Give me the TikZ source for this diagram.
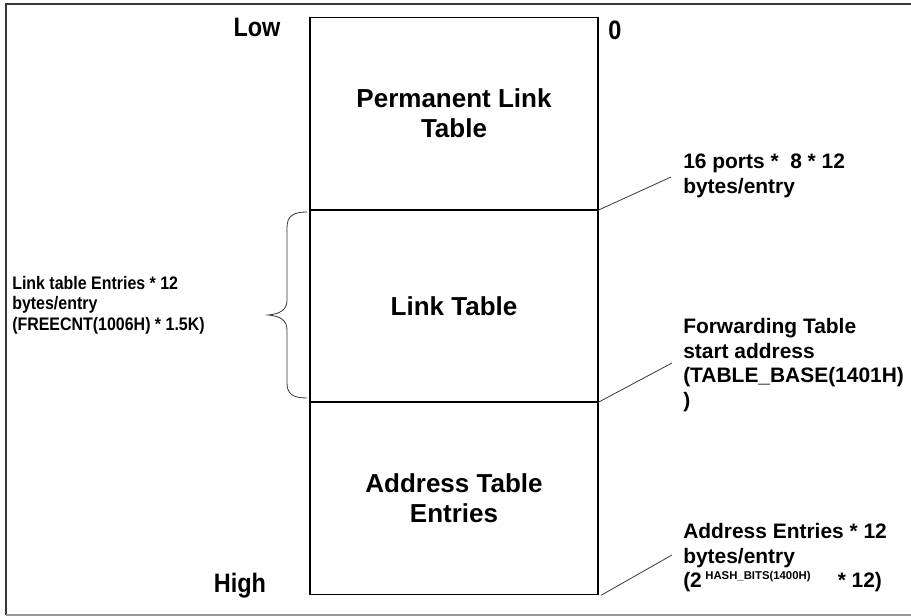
\documentclass[tikz,border=0pt]{standalone}
\usepackage{fontspec}
\setmainfont{Liberation Sans}
\newfontfamily\condfont[FakeStretch=0.88]{Liberation Sans}
\usepackage{xcolor}
\definecolor{marco}{RGB}{55,55,55}
\definecolor{gris}{RGB}{150,150,150}
\tikzset{
  bloque/.style={draw, line width=0.8pt, minimum width=216pt, inner sep=0pt,
    align=center, font=\fontsize{19.5}{22.5}\selectfont\bfseries},
  nota/.style={anchor=west, inner sep=0pt, align=left,
    font=\fontsize{15.7}{18.4}\selectfont\bfseries},
  extremo/.style={inner sep=0pt, font=\condfont\fontsize{20}{22}\selectfont\bfseries}
}

\begin{document}
\begin{tikzpicture}[x=0.75pt,y=-0.75pt]
        \useasboundingbox (0,0) rectangle (911,616);
        % marco
        \draw[marco, line width=1.5pt] (6,615) -- (6,4) -- (911,4);
        \draw[gris, line width=1pt] (6,615) -- (911,615);
        % tablas
        \node[bloque, minimum height=144pt, anchor=north] (perm) at (454,17) {Permanent Link\\Table};
        \node[bloque, minimum height=143.25pt, anchor=north] (link) at (perm.south) {Link Table};
        \node[bloque, minimum height=144pt, anchor=north] (addr) at (link.south) {Address Table\\Entries};
        % low / high
        \node[extremo] (low) at (257,27) {Low};
        \node[extremo] (high) at (240,586) {High};
        \node[extremo] (cero) at (615,30) {0};
        % notas derecha
        \node[nota] (n1) at (683,176) {16 ports *\ \ 8 * 12\\bytes/entry};
        \node[nota] (n2) at (683,365) {Forwarding Table\\start address\\(TABLE\_BASE(1401H)\\)};
        \node[nota] (n3) at (683,558) {Address Entries * 12\\bytes/entry\\(2\,\raisebox{0.42em}{\fontsize{8.5}{9}\selectfont HASH\_BITS(1400H)}\hspace{1.3em}* 12)};
        \coordinate (t1) at (671,177);
        \coordinate (t2) at (672,363);
        \coordinate (t3) at (672,555);
        \draw[marco, line width=0.6pt] (link.north east) -- (t1);
        \draw[marco, line width=0.6pt] (link.south east) -- (t2);
        \draw[marco, line width=0.6pt] ([xshift=2pt]addr.south east) -- (t3);
        % llave izquierda
        \draw[marco, line width=0.6pt] (307,212) .. controls (293,212) and (287,216) .. (287,228)
          -- (287,300) .. controls (287,310) and (280,314) .. (268,315)
          .. controls (280,316) and (287,320) .. (287,330)
          -- (287,383) .. controls (287,394) and (293,398) .. (307,398);
        \node[inner sep=0pt, anchor=west, align=left,
          font=\condfont\fontsize{13.6}{15.5}\selectfont\bfseries] (izq) at (12,305)
          {Link table Entries * 12\\bytes/entry\\(FREECNT(1006H) * 1.5K)};
\end{tikzpicture}
\end{document}
